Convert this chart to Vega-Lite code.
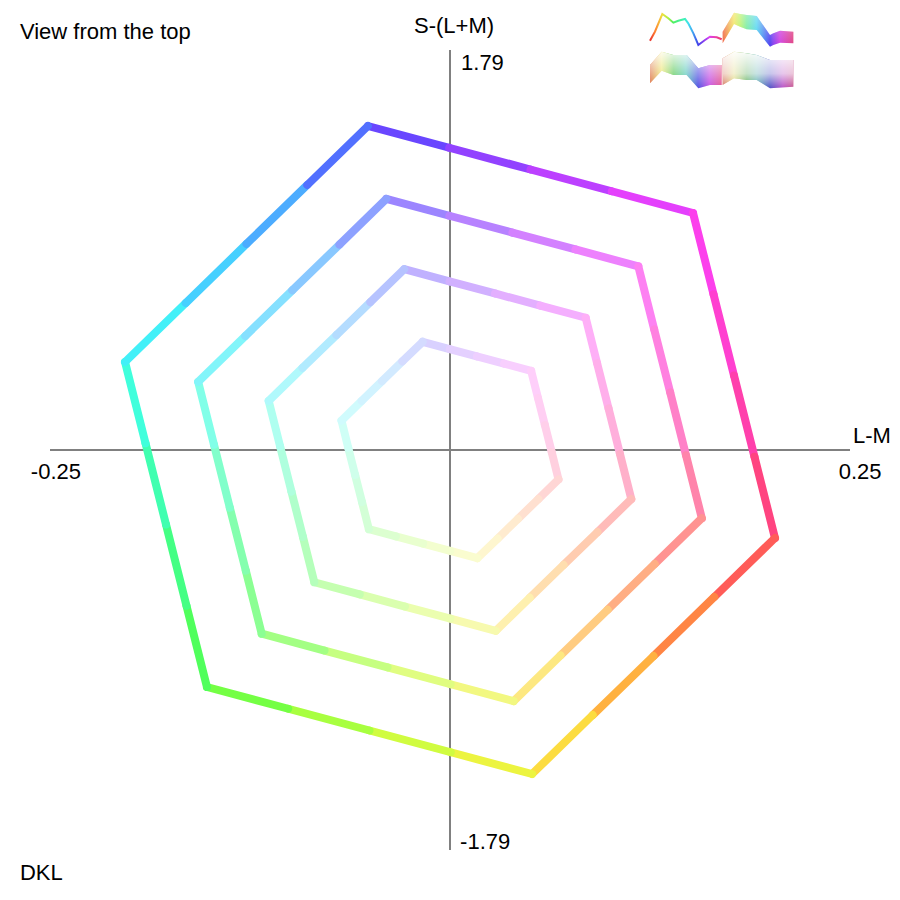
{
  "$schema": "https://vega.github.io/schema/vega-lite/v6.json",
  "width": 800,
  "height": 800,
  "padding": 50,
  "autosize": {"type": "none"},
  "background": "white",
  "config": {"view": {"stroke": null}},
  "datasets": {
    "axes": [
      {"x": -0.25, "x2": 0.25, "y": 0, "y2": 0},
      {"x": 0, "x2": 0, "y": -1.79, "y2": 1.79}
    ],
    "rings": [
      {"ring": 1, "i": 0, "x": -0.0513, "y": 1.4499, "c": "#6946ff"},
      {"ring": 1, "i": 1, "x": -0.0005, "y": 1.3526, "c": "#9242ff"},
      {"ring": 1, "i": 2, "x": 0.0503, "y": 1.2552, "c": "#bc40ff"},
      {"ring": 1, "i": 3, "x": 0.1011, "y": 1.1579, "c": "#e440fc"},
      {"ring": 1, "i": 4, "x": 0.1519, "y": 1.0606, "c": "#fc40ec"},
      {"ring": 1, "i": 5, "x": 0.1647, "y": 0.6970, "c": "#ff40d0"},
      {"ring": 1, "i": 6, "x": 0.1775, "y": 0.3334, "c": "#ff40ac"},
      {"ring": 1, "i": 7, "x": 0.1903, "y": -0.0302, "c": "#ff4480"},
      {"ring": 1, "i": 8, "x": 0.2031, "y": -0.3938, "c": "#ff5c58"},
      {"ring": 1, "i": 9, "x": 0.1652, "y": -0.6578, "c": "#ff8544"},
      {"ring": 1, "i": 10, "x": 0.1272, "y": -0.9219, "c": "#ffb140"},
      {"ring": 1, "i": 11, "x": 0.0892, "y": -1.1859, "c": "#fcdc40"},
      {"ring": 1, "i": 12, "x": 0.0513, "y": -1.4499, "c": "#ecf440"},
      {"ring": 1, "i": 13, "x": 0.0005, "y": -1.3526, "c": "#d0fc40"},
      {"ring": 1, "i": 14, "x": -0.0503, "y": -1.2552, "c": "#a8ff40"},
      {"ring": 1, "i": 15, "x": -0.1011, "y": -1.1579, "c": "#74ff44"},
      {"ring": 1, "i": 16, "x": -0.1519, "y": -1.0606, "c": "#50ff5c"},
      {"ring": 1, "i": 17, "x": -0.1647, "y": -0.6970, "c": "#44ff84"},
      {"ring": 1, "i": 18, "x": -0.1775, "y": -0.3334, "c": "#40ffb0"},
      {"ring": 1, "i": 19, "x": -0.1903, "y": 0.0302, "c": "#40ffdc"},
      {"ring": 1, "i": 20, "x": -0.2031, "y": 0.3938, "c": "#42f0f8"},
      {"ring": 1, "i": 21, "x": -0.1652, "y": 0.6578, "c": "#46d0ff"},
      {"ring": 1, "i": 22, "x": -0.1272, "y": 0.9219, "c": "#4cacff"},
      {"ring": 1, "i": 23, "x": -0.0892, "y": 1.1859, "c": "#5270ff"},
      {"ring": 1, "i": 24, "x": -0.0513, "y": 1.4499, "c": "#6946ff"},

      {"ring": 2, "i": 0, "x": -0.0398, "y": 1.1237, "c": "#9c85ff"},
      {"ring": 2, "i": 1, "x": -0.0004, "y": 1.0483, "c": "#b782ff"},
      {"ring": 2, "i": 2, "x": 0.0390, "y": 0.9728, "c": "#d381ff"},
      {"ring": 2, "i": 3, "x": 0.0784, "y": 0.8974, "c": "#ed81fd"},
      {"ring": 2, "i": 4, "x": 0.1177, "y": 0.8220, "c": "#fd81f2"},
      {"ring": 2, "i": 5, "x": 0.1276, "y": 0.5402, "c": "#ff81e0"},
      {"ring": 2, "i": 6, "x": 0.1376, "y": 0.2584, "c": "#ff81c8"},
      {"ring": 2, "i": 7, "x": 0.1475, "y": -0.0234, "c": "#ff84ab"},
      {"ring": 2, "i": 8, "x": 0.1574, "y": -0.3052, "c": "#ff9391"},
      {"ring": 2, "i": 9, "x": 0.1280, "y": -0.5098, "c": "#ffae84"},
      {"ring": 2, "i": 10, "x": 0.0986, "y": -0.7145, "c": "#ffcc81"},
      {"ring": 2, "i": 11, "x": 0.0691, "y": -0.9191, "c": "#fde881"},
      {"ring": 2, "i": 12, "x": 0.0398, "y": -1.1237, "c": "#f2f881"},
      {"ring": 2, "i": 13, "x": 0.0004, "y": -1.0483, "c": "#e0fd81"},
      {"ring": 2, "i": 14, "x": -0.0390, "y": -0.9728, "c": "#c6ff81"},
      {"ring": 2, "i": 15, "x": -0.0784, "y": -0.8974, "c": "#a3ff84"},
      {"ring": 2, "i": 16, "x": -0.1177, "y": -0.8220, "c": "#8bff93"},
      {"ring": 2, "i": 17, "x": -0.1276, "y": -0.5402, "c": "#84ffae"},
      {"ring": 2, "i": 18, "x": -0.1376, "y": -0.2584, "c": "#81ffcb"},
      {"ring": 2, "i": 19, "x": -0.1475, "y": 0.0234, "c": "#81ffe8"},
      {"ring": 2, "i": 20, "x": -0.1574, "y": 0.3052, "c": "#82f5fa"},
      {"ring": 2, "i": 21, "x": -0.1280, "y": 0.5098, "c": "#85e0ff"},
      {"ring": 2, "i": 22, "x": -0.0986, "y": 0.7145, "c": "#89c8ff"},
      {"ring": 2, "i": 23, "x": -0.0691, "y": 0.9191, "c": "#8da1ff"},
      {"ring": 2, "i": 24, "x": -0.0398, "y": 1.1237, "c": "#9c85ff"},

      {"ring": 3, "i": 0, "x": -0.0286, "y": 0.8090, "c": "#c0b1ff"},
      {"ring": 3, "i": 1, "x": -0.0003, "y": 0.7548, "c": "#d1b0ff"},
      {"ring": 3, "i": 2, "x": 0.0281, "y": 0.7004, "c": "#e3afff"},
      {"ring": 3, "i": 3, "x": 0.0564, "y": 0.6461, "c": "#f4affe"},
      {"ring": 3, "i": 4, "x": 0.0848, "y": 0.5918, "c": "#feaff7"},
      {"ring": 3, "i": 5, "x": 0.0919, "y": 0.3889, "c": "#ffafeb"},
      {"ring": 3, "i": 6, "x": 0.0991, "y": 0.1860, "c": "#ffafdc"},
      {"ring": 3, "i": 7, "x": 0.1062, "y": -0.0169, "c": "#ffb0ca"},
      {"ring": 3, "i": 8, "x": 0.1133, "y": -0.2197, "c": "#ffbbb9"},
      {"ring": 3, "i": 9, "x": 0.0922, "y": -0.3671, "c": "#ffccb0"},
      {"ring": 3, "i": 10, "x": 0.0710, "y": -0.5144, "c": "#ffdeaf"},
      {"ring": 3, "i": 11, "x": 0.0498, "y": -0.6617, "c": "#fef0af"},
      {"ring": 3, "i": 12, "x": 0.0286, "y": -0.8090, "c": "#f7faaf"},
      {"ring": 3, "i": 13, "x": 0.0003, "y": -0.7548, "c": "#ebfeaf"},
      {"ring": 3, "i": 14, "x": -0.0281, "y": -0.7004, "c": "#daffaf"},
      {"ring": 3, "i": 15, "x": -0.0564, "y": -0.6461, "c": "#c5ffb0"},
      {"ring": 3, "i": 16, "x": -0.0848, "y": -0.5918, "c": "#b5ffbb"},
      {"ring": 3, "i": 17, "x": -0.0919, "y": -0.3889, "c": "#b0ffcb"},
      {"ring": 3, "i": 18, "x": -0.0991, "y": -0.1860, "c": "#afffde"},
      {"ring": 3, "i": 19, "x": -0.1062, "y": 0.0169, "c": "#affff0"},
      {"ring": 3, "i": 20, "x": -0.1133, "y": 0.2197, "c": "#b0f9fc"},
      {"ring": 3, "i": 21, "x": -0.0922, "y": 0.3671, "c": "#b1ebff"},
      {"ring": 3, "i": 22, "x": -0.0710, "y": 0.5144, "c": "#b4dcff"},
      {"ring": 3, "i": 23, "x": -0.0498, "y": 0.6617, "c": "#b6c3ff"},
      {"ring": 3, "i": 24, "x": -0.0286, "y": 0.8090, "c": "#c0b1ff"},

      {"ring": 4, "i": 0, "x": -0.0171, "y": 0.4843, "c": "#d9d1ff"},
      {"ring": 4, "i": 1, "x": -0.0002, "y": 0.4518, "c": "#e4d0ff"},
      {"ring": 4, "i": 2, "x": 0.0168, "y": 0.4192, "c": "#eecfff"},
      {"ring": 4, "i": 3, "x": 0.0338, "y": 0.3867, "c": "#f8cffe"},
      {"ring": 4, "i": 4, "x": 0.0507, "y": 0.3542, "c": "#fecffa"},
      {"ring": 4, "i": 5, "x": 0.0550, "y": 0.2328, "c": "#ffcff3"},
      {"ring": 4, "i": 6, "x": 0.0593, "y": 0.1114, "c": "#ffcfea"},
      {"ring": 4, "i": 7, "x": 0.0636, "y": -0.0101, "c": "#ffd0df"},
      {"ring": 4, "i": 8, "x": 0.0678, "y": -0.1315, "c": "#ffd6d5"},
      {"ring": 4, "i": 9, "x": 0.0552, "y": -0.2197, "c": "#ffe0d0"},
      {"ring": 4, "i": 10, "x": 0.0425, "y": -0.3079, "c": "#ffebcf"},
      {"ring": 4, "i": 11, "x": 0.0298, "y": -0.3961, "c": "#fef6cf"},
      {"ring": 4, "i": 12, "x": 0.0171, "y": -0.4843, "c": "#fafccf"},
      {"ring": 4, "i": 13, "x": 0.0002, "y": -0.4518, "c": "#f3fecf"},
      {"ring": 4, "i": 14, "x": -0.0168, "y": -0.4192, "c": "#e9ffcf"},
      {"ring": 4, "i": 15, "x": -0.0338, "y": -0.3867, "c": "#dcffd0"},
      {"ring": 4, "i": 16, "x": -0.0507, "y": -0.3542, "c": "#d3ffd6"},
      {"ring": 4, "i": 17, "x": -0.0550, "y": -0.2328, "c": "#d0ffe0"},
      {"ring": 4, "i": 18, "x": -0.0593, "y": -0.1114, "c": "#cfffeb"},
      {"ring": 4, "i": 19, "x": -0.0636, "y": 0.0101, "c": "#cffff6"},
      {"ring": 4, "i": 20, "x": -0.0678, "y": 0.1315, "c": "#d0fbfd"},
      {"ring": 4, "i": 21, "x": -0.0552, "y": 0.2197, "c": "#d1f3ff"},
      {"ring": 4, "i": 22, "x": -0.0425, "y": 0.3079, "c": "#d2eaff"},
      {"ring": 4, "i": 23, "x": -0.0298, "y": 0.3961, "c": "#d4dbff"},
      {"ring": 4, "i": 24, "x": -0.0171, "y": 0.4843, "c": "#d9d1ff"}
    ],
    "labelsCenter": [
      {"label": "S-(L+M)", "x": 0.0025, "y": 1.899},
      {"label": "-0.25", "x": -0.2463, "y": -0.0985},
      {"label": "0.25", "x": 0.2563, "y": -0.0985}
    ],
    "labelsLeft": [
      {"label": "L-M", "x": 0.2519, "y": 0.0627},
      {"label": "1.79", "x": 0.0069, "y": 1.7318},
      {"label": "-1.79", "x": 0.0063, "y": -1.7542},
      {"label": "View from the top", "x": -0.2688, "y": 1.8706},
      {"label": "DKL", "x": -0.2688, "y": -1.8929}
    ],
    "thumbLine": [
      {"x": 0.125, "y": 1.8316},
      {"x": 0.1281, "y": 1.8719},
      {"x": 0.1327, "y": 1.9511},
      {"x": 0.1364, "y": 1.9319},
      {"x": 0.1396, "y": 1.9122},
      {"x": 0.1427, "y": 1.9211},
      {"x": 0.1469, "y": 1.9287},
      {"x": 0.1489, "y": 1.9095},
      {"x": 0.1521, "y": 1.8647},
      {"x": 0.1552, "y": 1.8124},
      {"x": 0.1594, "y": 1.8348},
      {"x": 0.1625, "y": 1.8495},
      {"x": 0.1667, "y": 1.8468},
      {"x": 0.1698, "y": 1.8379}
    ],
    "thumbBandA": [
      {"x": 0.1704, "top": 1.8719, "bottom": 1.8200},
      {"x": 0.1775, "top": 1.9569, "bottom": 1.9064},
      {"x": 0.1813, "top": 1.9511, "bottom": 1.8943},
      {"x": 0.1854, "top": 1.9466, "bottom": 1.8826},
      {"x": 0.1917, "top": 1.9422, "bottom": 1.8795},
      {"x": 0.2000, "top": 1.8571, "bottom": 1.8048},
      {"x": 0.2021, "top": 1.8647, "bottom": 1.8124},
      {"x": 0.2063, "top": 1.8764, "bottom": 1.8227},
      {"x": 0.2146, "top": 1.8719, "bottom": 1.8200}
    ],
    "thumbBandB": [
      {"x": 0.1250, "top": 1.7229, "bottom": 1.6410},
      {"x": 0.1323, "top": 1.7824, "bottom": 1.6974},
      {"x": 0.1396, "top": 1.7676, "bottom": 1.6781},
      {"x": 0.1479, "top": 1.7676, "bottom": 1.6781},
      {"x": 0.1552, "top": 1.7081, "bottom": 1.6186},
      {"x": 0.1625, "top": 1.7229, "bottom": 1.6334},
      {"x": 0.1698, "top": 1.7229, "bottom": 1.6334}
    ],
    "thumbBandC": [
      {"x": 0.1704, "top": 1.7529, "bottom": 1.6334},
      {"x": 0.1775, "top": 1.7824, "bottom": 1.6634},
      {"x": 0.1854, "top": 1.7752, "bottom": 1.6558},
      {"x": 0.1917, "top": 1.7676, "bottom": 1.6558},
      {"x": 0.2000, "top": 1.7453, "bottom": 1.6186},
      {"x": 0.2146, "top": 1.7453, "bottom": 1.6258}
    ]
  },
  "layer": [
    {
      "data": {"name": "axes"},
      "mark": {"type": "rule", "color": "#808080", "strokeWidth": 2},
      "encoding": {
        "x": {"field": "x", "type": "quantitative", "scale": {"domain": [-0.25, 0.25], "nice": false, "zero": false}, "axis": null},
        "y": {"field": "y", "type": "quantitative", "scale": {"domain": [-1.79, 1.79], "nice": false, "zero": false}, "axis": null},
        "x2": {"field": "x2"},
        "y2": {"field": "y2"}
      }
    },
    {
      "data": {"name": "rings"},
      "transform": [
        {"window": [{"op": "lead", "field": "x", "as": "nx"}, {"op": "lead", "field": "y", "as": "ny"}], "groupby": ["ring"], "sort": [{"field": "i", "order": "ascending"}]},
        {"filter": "isValid(datum.nx)"}
      ],
      "mark": {"type": "rule", "strokeWidth": 8, "strokeCap": "round"},
      "encoding": {
        "x": {"field": "x", "type": "quantitative", "scale": {"domain": [-0.25, 0.25], "nice": false, "zero": false}, "axis": null},
        "y": {"field": "y", "type": "quantitative", "scale": {"domain": [-1.79, 1.79], "nice": false, "zero": false}, "axis": null},
        "x2": {"field": "nx"},
        "y2": {"field": "ny"},
        "color": {"field": "c", "type": "nominal", "scale": null}
      }
    },
    {
      "data": {"name": "labelsCenter"},
      "mark": {"type": "text", "font": "Liberation Sans", "fontSize": 22, "align": "center", "baseline": "middle", "color": "black"},
      "encoding": {
        "x": {"field": "x", "type": "quantitative", "scale": {"domain": [-0.25, 0.25], "nice": false, "zero": false}, "axis": null},
        "y": {"field": "y", "type": "quantitative", "scale": {"domain": [-1.79, 1.79], "nice": false, "zero": false}, "axis": null},
        "text": {"field": "label"}
      }
    },
    {
      "data": {"name": "labelsLeft"},
      "mark": {"type": "text", "font": "Liberation Sans", "fontSize": 22, "align": "left", "baseline": "middle", "color": "black"},
      "encoding": {
        "x": {"field": "x", "type": "quantitative", "scale": {"domain": [-0.25, 0.25], "nice": false, "zero": false}, "axis": null},
        "y": {"field": "y", "type": "quantitative", "scale": {"domain": [-1.79, 1.79], "nice": false, "zero": false}, "axis": null},
        "text": {"field": "label"}
      }
    },
    {
      "data": {"name": "thumbLine"},
      "mark": {"type": "line", "strokeWidth": 2, "color": {"gradient": "linear", "x1": 0, "y1": 0, "x2": 1, "y2": 0, "stops": [
        {"offset": 0, "color": "#e83030"},
        {"offset": 0.07, "color": "#ff8030"},
        {"offset": 0.17, "color": "#f0e040"},
        {"offset": 0.25, "color": "#b0f040"},
        {"offset": 0.32, "color": "#50f060"},
        {"offset": 0.49, "color": "#40f0c0"},
        {"offset": 0.53, "color": "#40e0f0"},
        {"offset": 0.6, "color": "#40a0f0"},
        {"offset": 0.67, "color": "#4040e8"},
        {"offset": 0.76, "color": "#9040f0"},
        {"offset": 0.83, "color": "#e040f0"},
        {"offset": 1, "color": "#f04060"}
      ]}},
      "encoding": {
        "x": {"field": "x", "type": "quantitative", "scale": {"domain": [-0.25, 0.25], "nice": false, "zero": false}, "axis": null},
        "y": {"field": "y", "type": "quantitative", "scale": {"domain": [-1.79, 1.79], "nice": false, "zero": false}, "axis": null}
      }
    },
    {
      "data": {"name": "thumbBandA"},
      "mark": {"type": "area", "color": {"gradient": "linear", "x1": 0, "y1": 0, "x2": 1, "y2": 0, "stops": [
        {"offset": 0, "color": "#f06040"},
        {"offset": 0.16, "color": "#f0e040"},
        {"offset": 0.245, "color": "#b0f050"},
        {"offset": 0.34, "color": "#60e890"},
        {"offset": 0.48, "color": "#40d0f0"},
        {"offset": 0.67, "color": "#5040f0"},
        {"offset": 0.71, "color": "#8040f0"},
        {"offset": 0.81, "color": "#d040e0"},
        {"offset": 1, "color": "#e04080"}
      ]}},
      "encoding": {
        "x": {"field": "x", "type": "quantitative", "scale": {"domain": [-0.25, 0.25], "nice": false, "zero": false}, "axis": null},
        "y": {"field": "top", "type": "quantitative", "scale": {"domain": [-1.79, 1.79], "nice": false, "zero": false}, "axis": null},
        "y2": {"field": "bottom"}
      }
    },
    {
      "data": {"name": "thumbBandA"},
      "mark": {"type": "area", "color": {"gradient": "linear", "x1": 0, "y1": 0, "x2": 0, "y2": 1, "stops": [
        {"offset": 0, "color": "rgba(255,255,255,0.45)"},
        {"offset": 1, "color": "rgba(255,255,255,0)"}
      ]}},
      "encoding": {
        "x": {"field": "x", "type": "quantitative", "scale": {"domain": [-0.25, 0.25], "nice": false, "zero": false}, "axis": null},
        "y": {"field": "top", "type": "quantitative", "scale": {"domain": [-1.79, 1.79], "nice": false, "zero": false}, "axis": null},
        "y2": {"field": "bottom"}
      }
    },
    {
      "data": {"name": "thumbBandB"},
      "mark": {"type": "area", "color": {"gradient": "linear", "x1": 0, "y1": 0, "x2": 1, "y2": 0, "stops": [
        {"offset": 0, "color": "#d86030"},
        {"offset": 0.16, "color": "#e8e050"},
        {"offset": 0.33, "color": "#40c040"},
        {"offset": 0.5, "color": "#40c0b0"},
        {"offset": 0.67, "color": "#4040e0"},
        {"offset": 0.83, "color": "#c040e0"},
        {"offset": 1, "color": "#e04080"}
      ]}},
      "encoding": {
        "x": {"field": "x", "type": "quantitative", "scale": {"domain": [-0.25, 0.25], "nice": false, "zero": false}, "axis": null},
        "y": {"field": "top", "type": "quantitative", "scale": {"domain": [-1.79, 1.79], "nice": false, "zero": false}, "axis": null},
        "y2": {"field": "bottom"}
      }
    },
    {
      "data": {"name": "thumbBandB"},
      "mark": {"type": "area", "color": {"gradient": "linear", "x1": 0, "y1": 0, "x2": 0, "y2": 1, "stops": [
        {"offset": 0, "color": "rgba(255,255,255,0.9)"},
        {"offset": 1, "color": "rgba(255,255,255,0.1)"}
      ]}},
      "encoding": {
        "x": {"field": "x", "type": "quantitative", "scale": {"domain": [-0.25, 0.25], "nice": false, "zero": false}, "axis": null},
        "y": {"field": "top", "type": "quantitative", "scale": {"domain": [-1.79, 1.79], "nice": false, "zero": false}, "axis": null},
        "y2": {"field": "bottom"}
      }
    },
    {
      "data": {"name": "thumbBandC"},
      "mark": {"type": "area", "color": {"gradient": "linear", "x1": 0, "y1": 0, "x2": 1, "y2": 0, "stops": [
        {"offset": 0, "color": "#d06050"},
        {"offset": 0.16, "color": "#d8d060"},
        {"offset": 0.34, "color": "#40a040"},
        {"offset": 0.48, "color": "#40a0a0"},
        {"offset": 0.67, "color": "#4040c0"},
        {"offset": 0.85, "color": "#b040c0"},
        {"offset": 1, "color": "#c04080"}
      ]}},
      "encoding": {
        "x": {"field": "x", "type": "quantitative", "scale": {"domain": [-0.25, 0.25], "nice": false, "zero": false}, "axis": null},
        "y": {"field": "top", "type": "quantitative", "scale": {"domain": [-1.79, 1.79], "nice": false, "zero": false}, "axis": null},
        "y2": {"field": "bottom"}
      }
    },
    {
      "data": {"name": "thumbBandC"},
      "mark": {"type": "area", "color": {"gradient": "linear", "x1": 0, "y1": 0, "x2": 0, "y2": 1, "stops": [
        {"offset": 0, "color": "rgba(255,255,255,0.97)"},
        {"offset": 0.6, "color": "rgba(255,255,255,0.7)"},
        {"offset": 1, "color": "rgba(255,255,255,0.1)"}
      ]}},
      "encoding": {
        "x": {"field": "x", "type": "quantitative", "scale": {"domain": [-0.25, 0.25], "nice": false, "zero": false}, "axis": null},
        "y": {"field": "top", "type": "quantitative", "scale": {"domain": [-1.79, 1.79], "nice": false, "zero": false}, "axis": null},
        "y2": {"field": "bottom"}
      }
    }
  ]
}
